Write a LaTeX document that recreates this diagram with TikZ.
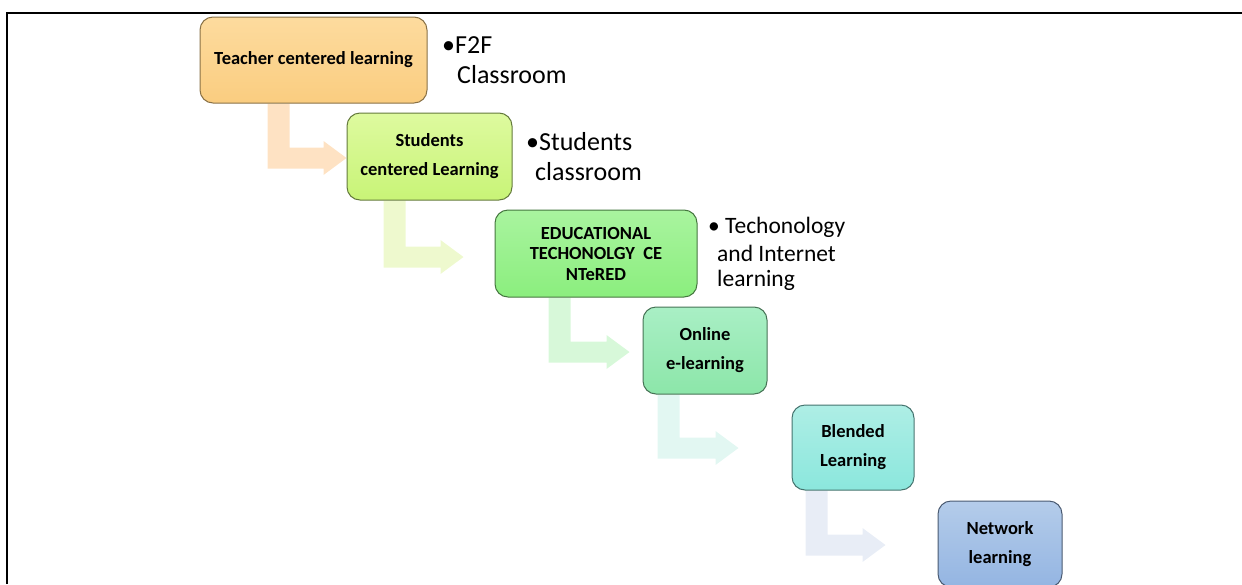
\documentclass[tikz,border=0pt]{standalone}
\usepackage{fontspec}
\setmainfont{Carlito}
\usetikzlibrary{backgrounds}

% stage fills (top / bottom of the vertical gradient)
\definecolor{teachTop}{HTML}{FDDB9E}
\definecolor{teachBot}{HTML}{FACD80}
\definecolor{studTop}{HTML}{DEFA9F}
\definecolor{studBot}{HTML}{C8F477}
\definecolor{eduTop}{HTML}{A9F49F}
\definecolor{eduBot}{HTML}{8BEE7E}
\definecolor{onlTop}{HTML}{A9EFC5}
\definecolor{onlBot}{HTML}{8CE6A9}
\definecolor{blendTop}{HTML}{AEEEE5}
\definecolor{blendBot}{HTML}{8BE7DD}
\definecolor{netTop}{HTML}{B4CCEA}
\definecolor{netBot}{HTML}{94B5E2}
% pale bent arrows between the stages
\definecolor{flowA}{HTML}{FEE2C3}
\definecolor{flowB}{HTML}{EEF9CE}
\definecolor{flowC}{HTML}{D7F8D9}
\definecolor{flowD}{HTML}{E2F7F2}
\definecolor{flowE}{HTML}{E8EDF6}

% bent block arrow hanging below a stage:
% #1 colour, #2 stage node, #3 stem offset from its left edge,
% #4 drop to the top of the horizontal bar, #5 bar length up to the head
\newcommand\flowarrow[5]{%
  \fill[#1] (#2.south west) ++(#3,0) -- ++(22,0) -- ++(0,#4) -- ++(#5,0)
    -- ++(0,-6.5) -- ++(23,17) -- ++(-23,17) -- ++(0,-6.5)
    -- ++(-#5-22,0) -- cycle;}

\begin{document}
\begin{tikzpicture}[x=1pt,y=-1pt,
  stage/.style={rounded corners=13pt, line width=1pt, align=center,
    inner sep=0pt, text=black,
    font=\fontsize{18.5}{29}\selectfont\bfseries},
  note/.style={anchor=base west, inner sep=0pt,
    font=\fontsize{26}{28}\selectfont},
  smallnote/.style={note, font=\fontsize{23.5}{26}\selectfont}]

\useasboundingbox (0,0) rectangle (1242,584);

% frame: top and left rules
\draw[line width=2.5pt, line join=miter] (7,584) -- (7,13) -- (1242,13);

% stages
\node[stage, top color=teachTop, bottom color=teachBot, draw=teachBot!55!black,
  minimum width=227pt, minimum height=86pt] (b1) at (313.5,60)
  {Teacher centered learning};
\node[stage, top color=studTop, bottom color=studBot, draw=studBot!50!black,
  minimum width=165pt, minimum height=87pt] (b2) at (429.5,156.5)
  {Students\\centered Learning};
\node[stage, top color=eduTop, bottom color=eduBot, draw=eduBot!50!black,
  minimum width=202pt, minimum height=87pt,
  font=\fontsize{18.5}{20.5}\selectfont\bfseries] (b3) at (596,253.5)
  {EDUCATIONAL\\TECHONOLGY\ \ CE\\NTeRED};
\node[stage, top color=onlTop, bottom color=onlBot, draw=onlBot!50!black,
  minimum width=124pt, minimum height=87pt] (b4) at (705,350.5)
  {Online\\e-learning};
\node[stage, top color=blendTop, bottom color=blendBot, draw=blendBot!50!black,
  minimum width=122pt, minimum height=85pt] (b5) at (853,447.5)
  {Blended\\Learning};
\node[stage, top color=netTop, bottom color=netBot, draw=netBot!50!black,
  minimum width=124pt, minimum height=86pt] (b6) at (1000,544)
  {Network\\learning};

% bent arrows, behind the stages
\begin{scope}[on background layer]
  \flowarrow{flowA}{b1}{68}{44}{34}
  \flowarrow{flowB}{b2}{37}{46}{35}
  \flowarrow{flowC}{b3}{54}{44}{36}
  \flowarrow{flowD}{b4}{15}{43}{36}
  \flowarrow{flowE}{b5}{14}{44}{35}
\end{scope}

% bullet notes beside the first stages
\node[note] (n1a) at (442,53) {•F2F};
\node[note] (n1b) at (457,83) {Classroom};
\node[note] (n2a) at (526,150) {•Students};
\node[note] (n2b) at (535,180) {classroom};
\node[smallnote] (n3a) at (708,233) {• Techonology};
\node[smallnote] (n3b) at (717,261) {and Internet};
\node[smallnote] (n3c) at (717,286) {learning};

\end{tikzpicture}
\end{document}
